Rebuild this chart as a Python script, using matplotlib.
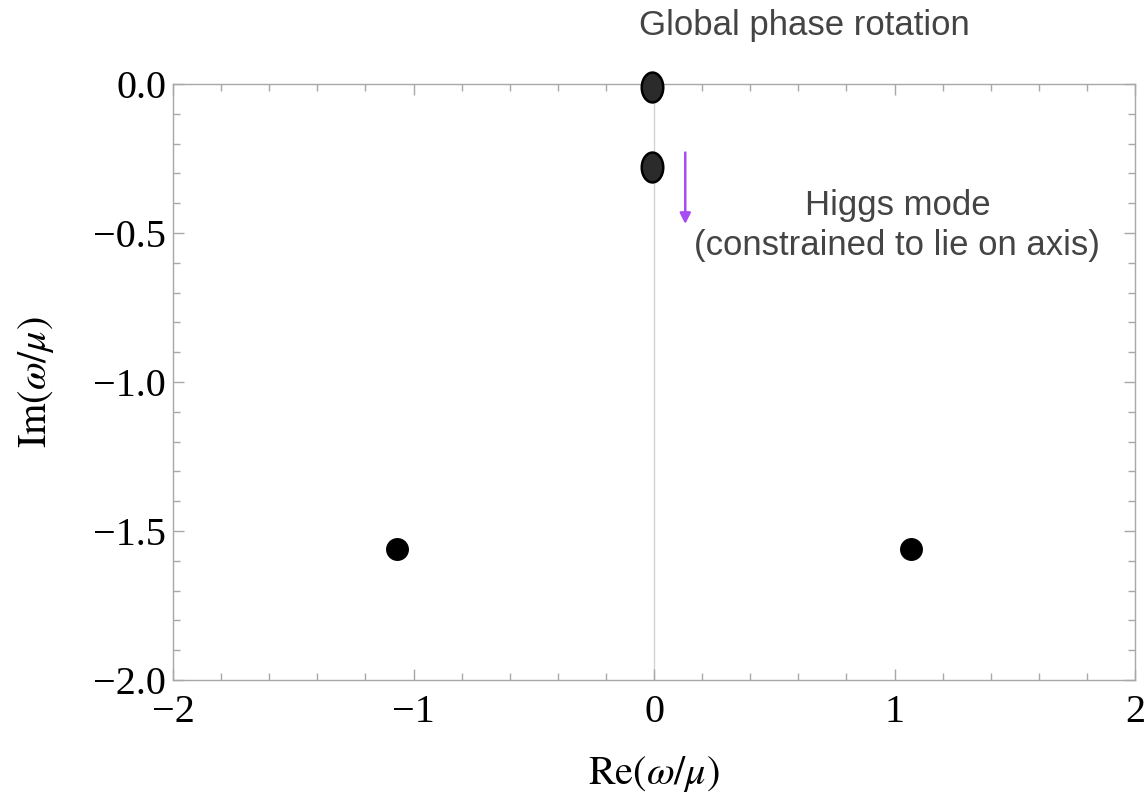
import numpy as np
import matplotlib
matplotlib.use("Agg")
import matplotlib.pyplot as plt
from matplotlib.path import Path
from matplotlib.ticker import MultipleLocator

plt.rcParams["mathtext.fontset"] = "stix"

# Eigenfrequencies in the complex plane
axis_re = [-0.01, -0.01]
axis_im = [-0.01, -0.28]
pair_re = [-1.07, 1.07]
pair_im = [-1.56, -1.56]

# Arrow indicating motion of the Higgs mode
arrow_re = 0.13
arrow_im_start = -0.23
arrow_im_end = -0.47

xtick_vals = [-2, -1, 0, 1, 2]
xtick_text = ["\u22122", "\u22121", "0", "1", "2"]
ytick_vals = [0, -0.5, -1.0, -1.5, -2.0]
ytick_text = ["0.0", "\u22120.5", "\u22121.0", "\u22121.5", "\u22122.0"]

W, H = 1147, 799
fig = plt.figure(figsize=(W / 100, H / 100), dpi=100)
ax = fig.add_axes([173 / W, 1 - 680 / H, (1135 - 173) / W, (680 - 84) / H])

ax.set_xlim(-2, 2)
ax.set_ylim(-2, 0)

frame_col = "#a8a8a8"
for s in ax.spines.values():
    s.set_color(frame_col)
    s.set_linewidth(1.0)

ax.axvline(0, color="#d4d4d4", lw=1.0, zorder=1)

# elliptical marker for the points on the imaginary axis
t = np.linspace(0, 2 * np.pi, 60)
ell = Path(np.column_stack([0.72 * np.cos(t), np.sin(t)]), closed=True)
ax.plot(axis_re, axis_im, ls="none", marker=ell, ms=21.5,
        mfc="#2b2b2b", mec="black", mew=1.8, zorder=5, clip_on=False)
ax.plot(pair_re, pair_im, ls="none", marker="o", ms=15.5,
        mfc="black", mec="black", zorder=5)

ax.annotate("", xy=(arrow_re, arrow_im_end), xytext=(arrow_re, arrow_im_start),
            arrowprops=dict(arrowstyle="-|>", color="#a64cf2", lw=1.8,
                            mutation_scale=16, shrinkA=0, shrinkB=0))

ax.xaxis.set_minor_locator(MultipleLocator(0.2))
ax.yaxis.set_minor_locator(MultipleLocator(0.1))
ax.set_xticks(xtick_vals)
ax.set_xticklabels(xtick_text)
ax.set_yticks(ytick_vals)
ax.set_yticklabels(ytick_text)
ax.tick_params(which="both", direction="in", top=True, right=True,
               color=frame_col, width=1.0)
ax.tick_params(which="major", length=8, labelsize=29)
ax.tick_params(which="minor", length=5)
ax.tick_params(axis="x", which="major", pad=10)
ax.tick_params(axis="y", which="major", pad=5)
for lab in ax.get_xticklabels() + ax.get_yticklabels():
    lab.set_family("Liberation Serif")

ax.set_xlabel(r"$\mathrm{Re}(\omega/\mu)$", fontsize=29)
ax.set_ylabel(r"$\mathrm{Im}(\omega/\mu)$", fontsize=29)
ax.xaxis.set_label_coords(0.5, -0.125)
ax.yaxis.set_label_coords(-0.122, 0.5)

txt_kw = dict(family="Liberation Sans", color="#444444", ha="center", va="center")
fig.text(804 / W, 1 - 25 / H, "Global phase rotation", fontsize=25, **txt_kw)
fig.text(898 / W, 1 - 205 / H, "Higgs mode", fontsize=25, **txt_kw)
fig.text(897 / W, 1 - 246 / H, "(constrained to lie on axis)", fontsize=25, **txt_kw)

fig.savefig("out.png", dpi=100, facecolor="white")
